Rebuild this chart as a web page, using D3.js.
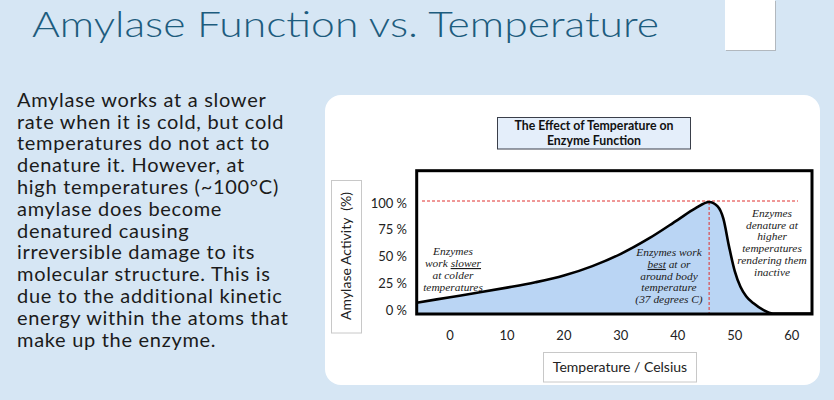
<!DOCTYPE html>
<html>
<head>
<meta charset="utf-8">
<script src="https://cdn.jsdelivr.net/npm/d3@7"></script>
<style>
  html, body { margin: 0; padding: 0; background: #d7e6f3; }
  svg { display: block; }
</style>
</head>
<body>
<svg id="chart" width="834" height="400"></svg>
<script>
// ---------- data ----------
const temperatures = [-5.85, 0, 5, 10, 15, 20, 25, 30, 35, 40, 43, 45.5, 47, 48, 49, 50, 51, 52, 53.3, 55, 56.7, 63.6];
const activity     = [9.7, 14.6, 18.8, 23.2, 28, 34, 42.5, 53.5, 67.5, 84, 94, 100, 96, 85, 60, 38, 24, 15.5, 9.1, 3.2, 0, 0];
const xTicks = [0, 10, 20, 30, 40, 50, 60];
const yTicks = [0, 25, 50, 75, 100];
const yTickLabels = ["0 %", "25 %", "50 %", "75 %", "100 %"];
const optimumTemp = 45.5;
const optimumActivity = 100;

const pageTitle = "Amylase Function vs. Temperature";
const bodyLines = [
  "Amylase works at a slower",
  "rate when it is cold, but cold",
  "temperatures do not act to",
  "denature it. However, at",
  "high temperatures (~100°C)",
  "amylase does become",
  "denatured causing",
  "irreversible damage to its",
  "molecular structure. This is",
  "due to the additional kinetic",
  "energy within the atoms that",
  "make up the enzyme."
];
const chartTitleLines = ["The Effect of Temperature on", "Enzyme Function"];
const yAxisTitle = "Amylase Activity  (%)";
const xAxisTitle = "Temperature / Celsius";
const noteCold = [["Enzymes"], ["work ", {u: "slower"}], ["at colder"], ["temperatures"]];
const noteBest = [["Enzymes work"], [{u: "best"}, " at or"], ["around body"], ["temperature"], ["(37 degrees C)"]];
const noteHot  = [["Enzymes"], ["denature at"], ["higher"], ["temperatures"], ["rendering them"], ["inactive"]];

// ---------- drawing ----------
const svg = d3.select("#chart");
const sans = "'Lato', 'Open Sans', sans-serif";
const serif = "'Liberation Serif', 'DejaVu Serif', serif";

// background
svg.append("rect").attr("width", 834).attr("height", 400).attr("fill", "#d6e6f4");

// page title
svg.append("text")
  .attr("x", 32).attr("y", 37)
  .attr("font-family", sans).attr("font-weight", 300).attr("font-size", 35)
  .attr("fill", "#1d5c7e")
  .attr("textLength", 627).attr("lengthAdjust", "spacingAndGlyphs")
  .text(pageTitle);

// white rectangle top right
svg.append("rect").attr("x", 726).attr("y", 1).attr("width", 50).attr("height", 50)
  .attr("fill", "#9a9a9a").attr("opacity", 0.6);
svg.append("rect").attr("x", 725).attr("y", 0).attr("width", 50).attr("height", 50)
  .attr("fill", "#ffffff");

// body text
const body = svg.append("text")
  .attr("font-family", sans).attr("font-size", 20).attr("fill", "#1b1b1b")
  .attr("letter-spacing", 0.7);
bodyLines.forEach((line, i) => {
  body.append("tspan").attr("x", 17).attr("y", 106.7 + i * 21.8).text(line);
});

// chart panel
svg.append("rect").attr("x", 325).attr("y", 95).attr("width", 495).attr("height", 290)
  .attr("rx", 16).attr("fill", "#ffffff");

// chart title box
svg.append("rect").attr("x", 497.5).attr("y", 117.5).attr("width", 193).attr("height", 31.5)
  .attr("fill", "#e4eefa").attr("stroke", "#3a3f4a").attr("stroke-width", 1);
chartTitleLines.forEach((line, i) => {
  svg.append("text").attr("x", 594).attr("y", 130 + i * 15)
    .attr("text-anchor", "middle").attr("font-family", sans)
    .attr("font-weight", "bold").attr("font-size", 12.3).attr("fill", "#111")
    .text(line);
});

// scales
const x = d3.scaleLinear().domain([0, 60]).range([450, 791.7]);
const y = d3.scaleLinear().domain([0, 100]).range([313.5, 202]);
const yLabel = d3.scaleLinear().domain([0, 100]).range([310, 203]);

const frameLeft = 416.7, frameRight = 812, frameTop = 170.7, frameBottom = 314;

const pts = temperatures.map((t, i) => ({t: t, v: activity[i]}));

// area fill
const area = d3.area().x(d => x(d.t)).y0(y(0)).y1(d => y(d.v)).curve(d3.curveMonotoneX);
svg.append("path").datum(pts).attr("d", area).attr("fill", "#bad5f4");

// red dashed reference lines
svg.append("line")
  .attr("x1", 422).attr("x2", 798).attr("y1", y(optimumActivity) - 1).attr("y2", y(optimumActivity) - 1)
  .attr("stroke", "#e0302e").attr("stroke-width", 1).attr("stroke-dasharray", "3,2");
svg.append("line")
  .attr("x1", x(optimumTemp)).attr("x2", x(optimumTemp)).attr("y1", y(optimumActivity)).attr("y2", y(0))
  .attr("stroke", "#e0302e").attr("stroke-width", 1).attr("stroke-dasharray", "3,2");

// curve
const line = d3.line().x(d => x(d.t)).y(d => y(d.v)).curve(d3.curveMonotoneX);
svg.append("path").datum(pts).attr("d", line)
  .attr("fill", "none").attr("stroke", "#000").attr("stroke-width", 2.6);

// frame
svg.append("rect").attr("x", frameLeft).attr("y", frameTop)
  .attr("width", frameRight - frameLeft).attr("height", frameBottom - frameTop)
  .attr("fill", "none").attr("stroke", "#000").attr("stroke-width", 3);

// annotations
function note(lines, cx, y0, dy) {
  const t = svg.append("text").attr("text-anchor", "middle")
    .attr("font-family", serif).attr("font-style", "italic")
    .attr("font-size", 11.4).attr("fill", "#1a1a1a");
  lines.forEach((parts, i) => {
    const ln = t.append("tspan").attr("x", cx).attr("y", y0 + i * dy);
    parts.forEach(p => {
      const s = ln.append("tspan");
      if (typeof p === "string") s.text(p);
      else s.attr("text-decoration", "underline").text(p.u);
    });
  });
}
note(noteCold, 453, 254.8, 12.2);
note(noteBest, 669, 256.3, 11.6);
note(noteHot, 772, 217, 11.7);

// y tick labels
svg.append("g").selectAll("text").data(yTicks).join("text")
  .attr("x", 407).attr("y", d => yLabel(d)).attr("dy", "0.35em")
  .attr("text-anchor", "end").attr("font-family", sans).attr("font-size", 13)
  .attr("fill", "#222")
  .text((d, i) => yTickLabels[i]);

// x tick labels
svg.append("g").selectAll("text").data(xTicks).join("text")
  .attr("x", d => x(d)).attr("y", 335).attr("dy", "0.35em")
  .attr("text-anchor", "middle").attr("font-family", sans).attr("font-size", 13)
  .attr("fill", "#222")
  .text(d => d);

// y axis title box
svg.append("rect").attr("x", 331.5).attr("y", 180.5).attr("width", 30).attr("height", 152.5)
  .attr("fill", "#fff").attr("stroke", "#c8c8c8").attr("stroke-width", 1);
svg.append("text")
  .attr("transform", "translate(351,256) rotate(-90)")
  .attr("text-anchor", "middle").attr("font-family", sans).attr("font-size", 14)
  .attr("fill", "#222")
  .style("white-space", "pre")
  .text(yAxisTitle);

// x axis title box
svg.append("rect").attr("x", 543.5).attr("y", 352.5).attr("width", 153).attr("height", 29.5)
  .attr("fill", "#fff").attr("stroke", "#c8c8c8").attr("stroke-width", 1);
svg.append("text")
  .attr("x", 620).attr("y", 367).attr("dy", "0.35em")
  .attr("text-anchor", "middle").attr("font-family", sans).attr("font-size", 14)
  .attr("fill", "#222")
  .text(xAxisTitle);
</script>
</body>
</html>
